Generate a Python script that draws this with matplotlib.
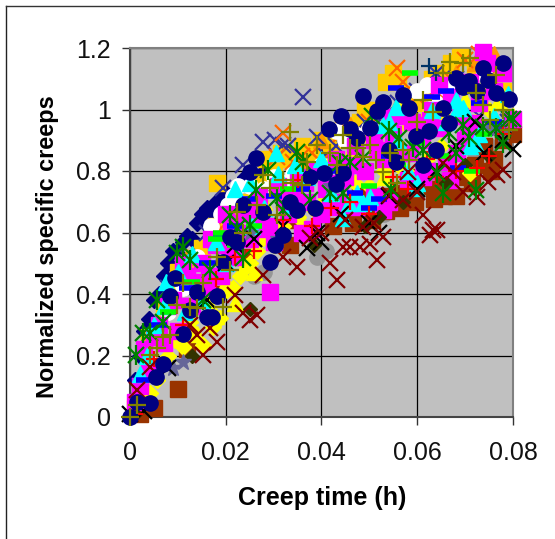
import matplotlib
matplotlib.use("Agg")
import matplotlib.pyplot as plt
from matplotlib.lines import Line2D

# creep curves, one pair of lists per marker style
gray_x = [0.001, 0.026, 0.028, 0.039, 0.041, 0.053, 0.066, 0.072, 0.075]
gray_y = [0.01, 0.46, 0.47, 0.52, 0.54, 0.66, 0.79, 0.86, 0.88]

navy_dia_x = [0.000, 0.001, 0.002, 0.003, 0.004, 0.005, 0.006, 0.007, 0.008, 0.009, 0.010, 0.011, 0.012, 0.013, 0.014,
              0.015, 0.016, 0.017, 0.018, 0.019, 0.020, 0.021, 0.022, 0.023, 0.024, 0.026, 0.028, 0.030, 0.034, 0.036,
              0.040, 0.046]
navy_dia_y = [0.00, 0.12, 0.20, 0.28, 0.32, 0.38, 0.40, 0.46, 0.50, 0.54, 0.53, 0.57, 0.59, 0.58, 0.63,
              0.66, 0.68, 0.67, 0.70, 0.71, 0.73, 0.72, 0.70, 0.75, 0.78, 0.72, 0.80, 0.77, 0.84, 0.80,
              0.88, 0.92]

gold_x = [0.001, 0.004, 0.007, 0.010, 0.012, 0.015, 0.0182, 0.018, 0.021, 0.024, 0.027, 0.030, 0.033, 0.036, 0.040,
          0.043, 0.046, 0.048, 0.052, 0.0535, 0.055, 0.056, 0.058, 0.060, 0.063, 0.065, 0.067, 0.069, 0.072, 0.075, 0.078,
          0.0285, 0.0315, 0.0345, 0.038, 0.042, 0.045, 0.049, 0.051]
gold_y = [0.03, 0.26, 0.35, 0.47, 0.50, 0.55, 0.76, 0.62, 0.66, 0.70, 0.76, 0.80, 0.84, 0.88, 0.90,
          0.93, 0.95, 0.96, 1.00, 1.09, 1.12, 1.10, 1.05, 1.02, 1.10, 1.12, 1.15, 1.17, 1.13, 1.10, 1.06,
          0.84, 0.86, 0.85, 0.86, 0.88, 0.90, 1.00, 0.92]

orange_tri_x = [0.012, 0.018, 0.024, 0.030, 0.036, 0.040, 0.044, 0.046, 0.050, 0.056, 0.062, 0.068, 0.072, 0.076, 0.078]
orange_tri_y = [0.52, 0.62, 0.69, 0.78, 0.83, 0.90, 0.97, 0.95, 0.96, 1.02, 1.06, 1.12, 1.15, 1.18, 1.12]

indigo_x = [0.002, 0.008, 0.012, 0.016, 0.0194, 0.0236, 0.0278, 0.0303, 0.032, 0.033, 0.0362, 0.039, 0.041, 0.043,
            0.045, 0.046, 0.049, 0.053, 0.056, 0.060, 0.064, 0.068, 0.073, 0.077, 0.079]
indigo_y = [0.10, 0.42, 0.52, 0.60, 0.745, 0.82, 0.894, 0.90, 0.885, 0.88, 1.04, 0.91, 0.85, 0.88,
            0.92, 0.82, 0.96, 0.98, 1.02, 1.06, 1.12, 1.10, 0.98, 0.94, 0.96]

orange_x_x = [0.004, 0.010, 0.018, 0.020, 0.022, 0.0307, 0.032, 0.034, 0.036, 0.038, 0.040, 0.044, 0.050, 0.052, 0.0558,
              0.057, 0.060, 0.064, 0.067, 0.070, 0.073, 0.077]
orange_y_y = [0.22, 0.42, 0.60, 0.65, 0.68, 0.846, 0.924, 0.83, 0.85, 0.86, 0.83, 0.92, 0.96, 0.98, 1.135, 1.089,
              1.04, 1.06, 1.10, 1.16, 1.18, 1.14]

white_x = [0.004, 0.008, 0.011, 0.014, 0.017, 0.019, 0.0205, 0.0225, 0.025, 0.028, 0.032, 0.036, 0.040, 0.045, 0.047,
           0.050, 0.055, 0.060, 0.062, 0.064, 0.070, 0.074, 0.0195, 0.0215, 0.030, 0.034, 0.043, 0.066]
white_y = [0.18, 0.34, 0.42, 0.52, 0.62, 0.66, 0.69, 0.75, 0.75, 0.74, 0.76, 0.77, 0.82, 0.90, 0.92,
           0.94, 0.98, 1.06, 1.08, 1.02, 1.08, 1.12, 0.66, 0.72, 0.78, 0.79, 0.93, 1.07]

brown_x = [0.002, 0.005, 0.010, 0.012, 0.018, 0.024, 0.030, 0.034, 0.040, 0.044, 0.048, 0.052, 0.054, 0.058, 0.060,
           0.062, 0.064, 0.066, 0.068, 0.070, 0.072, 0.074, 0.076, 0.078, 0.080, 0.046, 0.050, 0.056, 0.061, 0.0655,
           0.0335, 0.037, 0.0425, 0.0465, 0.0505, 0.0535, 0.0565, 0.0595, 0.0635, 0.0715, 0.0755]
brown_y = [0.01, 0.03, 0.09, 0.22, 0.40, 0.52, 0.60, 0.64, 0.66, 0.70, 0.72, 0.70, 0.72, 0.76, 0.78,
           0.80, 0.74, 0.76, 0.72, 0.78, 0.82, 0.88, 0.84, 0.90, 0.92, 0.66, 0.68, 0.73, 0.75, 0.72,
           0.56, 0.60, 0.62, 0.63, 0.64, 0.67, 0.68, 0.70, 0.71, 0.76, 0.80]

yellow_dia_x = [0.002, 0.0042, 0.0056, 0.008, 0.0111, 0.013, 0.0153, 0.0174, 0.0188, 0.0203, 0.023, 0.025, 0.0278, 0.030, 0.032,
                0.035, 0.038, 0.041, 0.044, 0.047, 0.050, 0.053, 0.056, 0.059, 0.062, 0.065, 0.0711, 0.072, 0.075, 0.078,
                0.0095, 0.0125, 0.0165, 0.0215, 0.0245, 0.0265]
yellow_dia_y = [0.06, 0.078, 0.12, 0.20, 0.228, 0.28, 0.234, 0.293, 0.322, 0.413, 0.46, 0.50, 0.582, 0.56, 0.62,
                0.65, 0.68, 0.71, 0.70, 0.76, 0.75, 0.80, 0.82, 0.78, 0.84, 0.88, 0.793, 0.96, 1.00, 1.04,
                0.25, 0.31, 0.38, 0.42, 0.49, 0.54]

yellow_tri_x = [0.003, 0.006, 0.009, 0.012, 0.016, 0.020, 0.024, 0.028, 0.033, 0.038, 0.042, 0.046, 0.050, 0.054, 0.058,
                0.062, 0.066, 0.070, 0.074, 0.077, 0.080, 0.014, 0.018, 0.022, 0.026, 0.031, 0.036, 0.053, 0.057]
yellow_tri_y = [0.16, 0.30, 0.40, 0.46, 0.38, 0.44, 0.60, 0.70, 0.72, 0.80, 0.84, 0.86, 0.92, 0.94, 0.96,
                1.00, 0.98, 1.03, 1.08, 1.03, 0.98, 0.27, 0.33, 0.37, 0.47, 0.60, 0.63, 0.78, 1.02]

magenta_x = [0.001, 0.002, 0.003, 0.004, 0.006, 0.007, 0.009, 0.010, 0.012, 0.013, 0.015, 0.016, 0.018, 0.019, 0.021,
             0.022, 0.024, 0.025, 0.027, 0.0293, 0.029, 0.031, 0.033, 0.035, 0.037, 0.039, 0.041, 0.043, 0.045, 0.047,
             0.049, 0.051, 0.053, 0.055, 0.057, 0.059, 0.061, 0.063, 0.065, 0.067, 0.069, 0.071, 0.073, 0.0737, 0.076,
             0.0779, 0.051, 0.054, 0.058, 0.062, 0.066, 0.070, 0.080, 0.020, 0.014, 0.030, 0.038, 0.044,
             0.0543, 0.0627, 0.0516, 0.0717, 0.0683, 0.0669, 0.0612, 0.0528, 0.0474, 0.0418, 0.0439,
             0.034, 0.036, 0.040, 0.026, 0.023, 0.017, 0.011, 0.008, 0.005, 0.0585, 0.0645, 0.0745,
             0.0125, 0.0165, 0.021, 0.028, 0.0325, 0.0365, 0.0425, 0.0465, 0.0565, 0.0605, 0.0705]
magenta_y = [0.05, 0.10, 0.22, 0.15, 0.30, 0.24, 0.38, 0.28, 0.46, 0.36, 0.50, 0.42, 0.56, 0.46, 0.63,
             0.52, 0.66, 0.58, 0.72, 0.405, 0.62, 0.75, 0.66, 0.78, 0.70, 0.80, 0.74, 0.84, 0.78, 0.88,
             0.80, 0.90, 0.84, 0.92, 0.86, 0.96, 0.90, 1.00, 0.94, 1.04, 0.98, 1.09, 1.02, 1.187, 1.06,
             1.119, 0.72, 0.70, 0.77, 0.80, 0.83, 0.90, 0.97, 0.66, 0.44, 0.57, 0.61, 0.69,
             0.976, 0.966, 0.868, 0.956, 0.859, 0.771, 0.78, 0.673, 0.683, 0.683, 0.761,
             0.72, 0.60, 0.66, 0.66, 0.60, 0.58, 0.50, 0.36, 0.26, 0.86, 1.08, 1.15,
             0.36, 0.46, 0.53, 0.61, 0.70, 0.76, 0.70, 0.82, 0.98, 0.95, 0.93]

cyan_x = [0.002, 0.005, 0.007, 0.010, 0.013, 0.015, 0.018, 0.020, 0.022, 0.025, 0.028, 0.031, 0.034, 0.037, 0.040,
          0.042, 0.0556, 0.0686, 0.0528, 0.0721, 0.0598, 0.0474, 0.0487, 0.0501, 0.0458, 0.0445, 0.054, 0.056, 0.058,
          0.060, 0.063, 0.066, 0.068, 0.071, 0.073, 0.076, 0.079, 0.0695, 0.0345, 0.0305, 0.0255, 0.0115, 0.0075, 0.0035]
cyan_y = [0.14, 0.30, 0.36, 0.47, 0.53, 0.38, 0.57, 0.50, 0.74, 0.76, 0.68, 0.79, 0.69, 0.78, 0.84,
          0.73, 1.008, 1.005, 0.95, 0.891, 0.745, 0.728, 0.696, 0.716, 0.696, 0.647, 0.96, 0.90, 0.80,
          0.76, 1.00, 0.96, 1.03, 0.88, 0.92, 0.98, 1.05, 1.005, 0.82, 0.86, 0.62, 0.34, 0.44, 0.20]

dark_olive_x = [0.001, 0.013, 0.025, 0.0385, 0.049, 0.052, 0.057, 0.066, 0.070, 0.075, 0.078]
dark_olive_y = [0.01, 0.20, 0.35, 0.56, 0.62, 0.65, 0.70, 0.76, 0.82, 0.85, 0.91]

slate_x = [0.009, 0.011, 0.025, 0.031, 0.042, 0.075, 0.078]
slate_y = [0.16, 0.18, 0.60, 0.58, 0.75, 0.94, 0.92]

navy_plus_x = [0.0625, 0.064]
navy_plus_y = [1.14, 1.12]

black_x = [0.000, 0.003, 0.008, 0.016, 0.020, 0.022, 0.026, 0.032, 0.037, 0.039, 0.040, 0.044, 0.050, 0.052, 0.054,
           0.060, 0.064, 0.068, 0.072, 0.074, 0.078, 0.080]
black_y = [0.01, 0.02, 0.16, 0.38, 0.50, 0.56, 0.58, 0.62, 0.55, 0.60, 0.57, 0.66, 0.63, 0.60, 0.72,
           0.74, 0.80, 0.88, 0.96, 0.86, 0.90, 0.87]

blue_x = [0.003, 0.006, 0.012, 0.016, 0.019, 0.022, 0.025, 0.030, 0.036, 0.042, 0.047, 0.050, 0.052, 0.054, 0.0555,
          0.063, 0.066, 0.0685, 0.070, 0.073, 0.076]
blue_y = [0.12, 0.30, 0.42, 0.50, 0.59, 0.62, 0.71, 0.72, 0.74, 0.80, 0.73, 0.68, 0.71, 0.85, 1.07,
          1.04, 1.06, 0.81, 1.08, 1.02, 0.96]

lime_x = [0.008, 0.013, 0.018, 0.019, 0.022, 0.026, 0.033, 0.040, 0.050, 0.056, 0.060, 0.0585, 0.065, 0.0715, 0.074]
lime_y = [0.34, 0.44, 0.58, 0.60, 0.56, 0.62, 0.74, 0.78, 0.75, 0.82, 0.89, 1.12, 0.85, 0.80, 0.92]

red_x = [0.001, 0.005, 0.011, 0.018, 0.022, 0.026, 0.032, 0.035, 0.038, 0.042, 0.046, 0.050, 0.055, 0.058, 0.062,
         0.064, 0.068, 0.0725, 0.075, 0.078]
red_y = [0.01, 0.19, 0.30, 0.45, 0.52, 0.54, 0.64, 0.77, 0.62, 0.68, 0.70, 0.66, 0.78, 0.74, 0.84,
         0.78, 0.80, 0.81, 0.85, 0.92]

maroon_x = [0.0418, 0.0433, 0.0516, 0.0501, 0.0445, 0.046, 0.0481, 0.0528, 0.0627, 0.0642, 0.0612, 0.0633, 0.0696,
            0.0725, 0.0748, 0.0779, 0.0767, 0.0654, 0.0675, 0.057, 0.0487, 0.0543, 0.0581, 0.06, 0.0278, 0.0349,
            0.032, 0.0376, 0.0219, 0.0236, 0.0265, 0.0251, 0.014, 0.0182, 0.0125, 0.0167, 0.0153, 0.0015, 0.0042,
            0.040, 0.045, 0.051]
maroon_y = [0.501, 0.446, 0.511, 0.563, 0.553, 0.553, 0.553, 0.585, 0.592, 0.608, 0.657, 0.608, 0.732,
            0.716, 0.764, 0.803, 0.787, 0.826, 0.797, 0.706, 0.618, 0.722, 0.797, 0.732, 0.462, 0.488,
            0.520, 0.582, 0.397, 0.338, 0.332, 0.315, 0.267, 0.244, 0.299, 0.289, 0.202, 0.088, 0.163,
            0.60, 0.64, 0.63]

green_x = [0.0349, 0.0362, 0.0288, 0.0263, 0.0307, 0.032, 0.0209, 0.0251, 0.0224, 0.0376, 0.0541, 0.0562, 0.0591,
           0.0612, 0.0666, 0.0696, 0.0737, 0.0765, 0.0792, 0.0708, 0.0681, 0.0779, 0.0642, 0.0723, 0.0654, 0.046,
           0.0487, 0.0439, 0.0445, 0.0418, 0.0111, 0.0098, 0.0125, 0.0167, 0.0236, 0.0056, 0.0153, 0.0069, 0.0027,
           0.0042, 0.0013, 0.0505, 0.0545, 0.080]
green_y = [0.862, 0.829, 0.803, 0.738, 0.712, 0.673, 0.657, 0.624, 0.615, 0.706, 0.930, 0.907, 0.878,
           0.868, 0.924, 0.950, 0.943, 0.940, 0.969, 0.911, 0.859, 0.891, 0.793, 0.738, 0.728, 0.829,
           0.842, 0.826, 0.728, 0.728, 0.553, 0.533, 0.511, 0.478, 0.517, 0.380, 0.380, 0.309, 0.273,
           0.273, 0.202, 0.98, 0.74, 0.97]

navy_x = [0.0487, 0.0570, 0.0528, 0.0516, 0.0583, 0.0416, 0.0460, 0.0474, 0.0501, 0.0541, 0.0556, 0.0597, 0.0625,
          0.0666, 0.0639, 0.0612, 0.0445, 0.0430, 0.0405, 0.0681, 0.0708, 0.0696, 0.0737, 0.0779, 0.0748, 0.0765,
          0.0792, 0.0725, 0.0654, 0.0263, 0.0251, 0.0236, 0.0278, 0.0334, 0.0349, 0.0376, 0.0387, 0.0320, 0.0209,
          0.0224, 0.0303, 0.0293, 0.0194, 0.0094, 0.0084, 0.0140, 0.0182, 0.0125, 0.0161, 0.0111, 0.0069, 0.0054,
          0.0042, 0.0015, 0.000, 0.0171, 0.0440]
navy_y = [1.044, 1.047, 1.024, 0.995, 1.005, 0.937, 0.937, 0.907, 0.940, 0.868, 0.829, 0.914, 0.930,
          0.956, 0.868, 0.820, 0.793, 0.758, 0.793, 1.102, 1.093, 1.073, 1.135, 1.151, 1.096, 1.054,
          1.034, 1.060, 1.005, 0.842, 0.797, 0.689, 0.667, 0.699, 0.673, 0.780, 0.680, 0.592, 0.585,
          0.569, 0.559, 0.504, 0.504, 0.452, 0.393, 0.406, 0.393, 0.348, 0.325, 0.270, 0.172, 0.130,
          0.046, 0.049, 0.000, 0.325, 0.980]

olive_x = [0.0669, 0.0696, 0.0654, 0.0711, 0.0765, 0.0723, 0.0738, 0.0612, 0.0633, 0.0600, 0.0445, 0.0460, 0.0474,
           0.0501, 0.0487, 0.0514, 0.0543, 0.0570, 0.0583, 0.0528, 0.0558, 0.0418, 0.0433, 0.0752, 0.0779, 0.0792,
           0.0334, 0.0278, 0.0293, 0.0320, 0.0341, 0.0359, 0.0370, 0.0391, 0.0265, 0.0307, 0.0224, 0.0236, 0.0182,
           0.0209, 0.0153, 0.0111, 0.0098, 0.0125, 0.0140, 0.0194, 0.0069, 0.0084, 0.0056, 0.0042, 0.0015, 0.000]
olive_y = [1.154, 1.151, 1.119, 1.167, 1.112, 1.054, 1.015, 1.031, 0.992, 0.959, 0.917, 0.875, 0.875,
           0.885, 0.846, 0.836, 0.859, 0.868, 0.836, 0.797, 0.761, 0.859, 0.820, 0.966, 0.998, 0.933,
           0.927, 0.787, 0.745, 0.771, 0.761, 0.754, 0.829, 0.885, 0.689, 0.657, 0.667, 0.598, 0.520,
           0.478, 0.436, 0.436, 0.364, 0.358, 0.354, 0.358, 0.260, 0.267, 0.224, 0.202, 0.039, 0.000]

x_ticks = [0, 0.02, 0.04, 0.06, 0.08]
y_ticks = [0, 0.2, 0.4, 0.6, 0.8, 1, 1.2]

plt.rcParams['font.family'] = ['Liberation Sans', 'DejaVu Sans']

fig = plt.figure(figsize=(5.55, 5.39), dpi=100)
ax = fig.add_axes([130 / 555, 1 - 417 / 539, 383 / 555, 369 / 539])
ax.set_facecolor('#C0C0C0')

# same order as the series in the sheet, last one ends up on top
series = [
    (gray_x, gray_y, 'o', '#969696', 11),
    (navy_dia_x, navy_dia_y, 'D', '#000080', 8.5),
    (gold_x, gold_y, 's', '#FFCC00', 11),
    (orange_tri_x, orange_tri_y, '^', '#FF9900', 12),
    (indigo_x, indigo_y, 'x', '#333399', 11),
    (orange_x_x, orange_y_y, 'x', '#FF6600', 11),
    (white_x, white_y, 'o', '#FFFFFF', 11),
    (brown_x, brown_y, 's', '#993300', 11),
    (yellow_dia_x, yellow_dia_y, 'D', '#FFFF00', 8.5),
    (yellow_tri_x, yellow_tri_y, '^', '#FFFF00', 12),
    (magenta_x, magenta_y, 's', '#FF00FF', 11),
    (cyan_x, cyan_y, '^', '#00FFFF', 12),
    (dark_olive_x, dark_olive_y, 'D', '#333300', 7),
    (slate_x, slate_y, '*', '#666699', 12),
    (navy_plus_x, navy_plus_y, '+', '#003366', 12),
    (black_x, black_y, 'x', '#000000', 11),
    (blue_x, blue_y, 's', '#0000FF', 0),
    (lime_x, lime_y, 's', '#00FF00', 0),
    (red_x, red_y, '+', '#FF0000', 12),
    (maroon_x, maroon_y, 'x', '#800000', 11),
    (green_x, green_y, 'x', '#008000', 11),
    (navy_x, navy_y, 'o', '#000080', 11),
    (olive_x, olive_y, '+', '#808000', 13),
]

for xs, ys, m, c, ms in series:
    if ms == 0:
        # flat dash markers
        ax.plot(xs, ys, ls='none', marker='_', color=c, ms=11, mew=4, clip_on=False, zorder=3)
    elif m in ('x', '+'):
        ax.plot(xs, ys, ls='none', marker=m, color=c, ms=ms, mew=1.6, clip_on=False, zorder=3)
        if c == '#008000':
            # green ones are asterisks, x with an upright stroke
            ax.plot(xs, ys, ls='none', marker='|', color=c, ms=ms + 3, mew=1.6, clip_on=False, zorder=3)
    else:
        ax.plot(xs, ys, ls='none', marker=m, color=c, mfc=c, mec=c, ms=ms, clip_on=False, zorder=3)

ax.set_xlim(0, 0.08)
ax.set_ylim(0, 1.2)
ax.set_xticks(x_ticks)
ax.set_xticklabels(['0', '0.02', '0.04', '0.06', '0.08'])
ax.set_yticks(y_ticks)
ax.set_yticklabels(['0', '0.2', '0.4', '0.6', '0.8', '1', '1.2'])
ax.grid(True, color='#000000', lw=0.9, zorder=1)
ax.set_axisbelow(True)
ax.tick_params(axis='both', labelsize=18, length=6, width=1, color='#333333', labelcolor='#111111')
ax.tick_params(axis='x', pad=11)
ax.tick_params(axis='y', pad=8)

for s in ['top', 'right']:
    ax.spines[s].set_color('#808080')
    ax.spines[s].set_linewidth(1.5)
for s in ['left', 'bottom']:
    ax.spines[s].set_color('#444444')
    ax.spines[s].set_linewidth(1.5)

fig.text(322 / 555, 1 - 498 / 539, 'Creep time (h)', fontsize=18, fontweight='bold', ha='center', va='center')
fig.text(48 / 555, 1 - 247 / 539, 'Normalized specific creeps', fontsize=16.9, fontweight='bold',
         rotation=90, ha='center', va='center')

# outer frame of the pasted chart, open on the right
fig.add_artist(Line2D([6 / 555, 6 / 555], [0, 1 - 6 / 539], color='#222222', lw=1))
fig.add_artist(Line2D([6 / 555, 1], [1 - 6 / 539, 1 - 6 / 539], color='#333333', lw=1))

fig.savefig('out.png', dpi=100)
